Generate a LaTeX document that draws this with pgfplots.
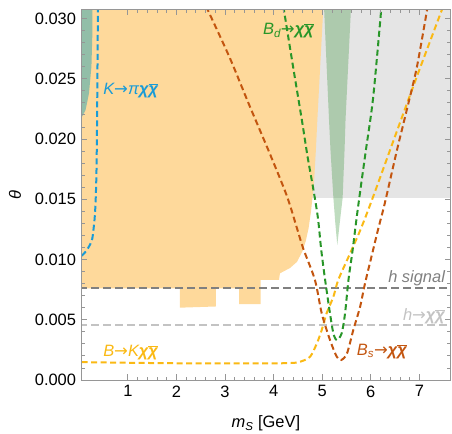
\documentclass[border=0pt]{standalone}
\usepackage{fontspec}
\setmainfont{Liberation Sans}
\newfontfamily\dejavu{DejaVu Sans}
\usepackage{pgfplots}
\pgfplotsset{compat=1.18}
\definecolor{orfill}{RGB}{254,217,155}
\definecolor{grfill}{RGB}{229,229,229}
\definecolor{teal2}{RGB}{146,190,168}
\definecolor{wedge}{RGB}{60,150,60}
\definecolor{Kcol}{RGB}{25,155,215}
\definecolor{Bdcol}{RGB}{40,150,40}
\definecolor{Bscol}{RGB}{195,85,15}
\definecolor{BKcol}{RGB}{250,185,20}
\definecolor{hsig}{RGB}{128,128,128}
\definecolor{hchi}{RGB}{195,195,195}
\definecolor{axisgray}{RGB}{150,150,150}
\newcommand{\arr}{{\dejavu\upshape →}}
\newcommand{\cc}{{\bfseries χ$\overline{\hbox{χ}}$}}
\begin{document}
\fontsize{16.5}{19}\selectfont
\begin{tikzpicture}
\path[use as bounding box] (-81.7bp,-54bp) rectangle (370.3bp,380bp);
\begin{axis}[
  at={(0,0)}, anchor=south west,
  scale only axis, width=368.3bp, height=370bp,
  xmin=0.05, xmax=7.63, ymin=0, ymax=0.0307,
  xtick={1,2,3,4,5,6,7}, minor x tick num=4,
  ytick={0,0.005,0.01,0.015,0.02,0.025,0.03}, minor y tick num=4,
  scaled y ticks=false,
  /pgf/number format/assume math mode=true,
  y tick label style={/pgf/number format/.cd, fixed, fixed zerofill, precision=3, /tikz/.cd},
  tick align=inside,
  major tick length=5.5bp, minor tick length=3bp,
  axis line style={draw=axisgray, line width=1bp},
  tick style={draw=axisgray, line width=0.8bp},
  tick label style={font=\fontsize{16.5}{19}\selectfont, text=black},
  xlabel={\itshape m\textsubscript{S}\upshape\ [GeV]},
  ylabel={\itshape θ},
  xlabel style={at={(axis description cs:0.5,-0.1297)}, anchor=base},
  ylabel style={at={(axis description cs:-0.181,0.5)}, anchor=center},
  label style={font=\fontsize{16.5}{19}\selectfont},
  axis on top,
]
% grey excluded region
\addplot[fill=grfill, draw=none] coordinates {(4.5,0.0151) (7.7,0.0151) (7.7,0.032) (4.5,0.032)} -- cycle;
% orange region
\addplot[fill=orfill, draw=none] coordinates {
(0,0.032) (5.04,0.032) (5.02,0.0307) (4.90,0.0216) (4.87,0.0191) (4.83,0.0163) (4.77,0.0140)
(4.72,0.0126) (4.66,0.0115) (4.59,0.01065) (4.48,0.0098) (4.34,0.0093) (4.13,0.00885)
(4.11,0.0083) (3.73,0.0083) (3.73,0.0063) (3.29,0.0063) (3.29,0.0076) (2.81,0.0076)
(2.81,0.0061) (2.07,0.0060) (2.07,0.0076) (0,0.0076)} -- cycle;
% teal region top left
\addplot[fill=teal2, draw=none] coordinates {
(0,0.032) (0.27,0.032) (0.27,0.0288) (0.25,0.026) (0.20,0.0238) (0.13,0.0224) (0.05,0.0218) (0,0.0218)} -- cycle;
% green wedge
\addplot[fill=wedge, fill opacity=0.33, draw=none] coordinates {
(5.03,0.032) (5.04,0.0307) (5.14,0.0216) (5.17,0.0191) (5.23,0.0151) (5.27,0.0130) (5.31,0.0112)
(5.36,0.0130) (5.42,0.0151) (5.46,0.0191) (5.48,0.0216) (5.59,0.0307) (5.60,0.032)} -- cycle;
% h lines
\addplot[hsig, line width=1.8bp, dash pattern=on 8bp off 4bp] coordinates {(0,0.00761) (7.7,0.00761)};
\addplot[hchi, line width=1.8bp, dash pattern=on 8bp off 4bp] coordinates {(0,0.00458) (7.7,0.00458)};
% K -> pi chi chi
\addplot[Kcol, line width=2bp, dash pattern=on 6bp off 3.5bp, smooth] coordinates {
(0.05,0.0103) (0.12,0.0106) (0.19,0.0110) (0.26,0.0116) (0.29,0.0124) (0.32,0.0136) (0.34,0.0152)
(0.355,0.0175) (0.365,0.021) (0.375,0.026) (0.385,0.031)};
% B -> K chi chi
\addplot[BKcol, line width=2bp, dash pattern=on 6bp off 3.5bp, smooth] coordinates {
(0.05,0.00148) (1,0.00143) (2,0.00139) (3,0.00137) (4,0.00138) (4.4,0.00142) (4.55,0.00152)
(4.75,0.00193) (4.89,0.00304) (4.99,0.00415) (5.09,0.00553) (5.23,0.00691) (5.33,0.0083)
(5.54,0.0102) (5.78,0.0124) (6.02,0.0149) (6.47,0.0199) (6.95,0.0252) (7.49,0.0310)};
% Bd -> chi chi
\addplot[Bdcol, line width=2bp, dash pattern=on 6bp off 3.5bp, smooth] coordinates {
(4.20,0.0310) (4.40,0.0260) (4.58,0.0216) (4.70,0.0185) (4.81,0.0160) (4.91,0.0135) (4.98,0.0108)
(5.06,0.0083) (5.16,0.00553) (5.23,0.00387) (5.30,0.00332) (5.40,0.00387) (5.47,0.00553)
(5.54,0.0083) (5.62,0.0106) (5.71,0.0135) (5.80,0.0162) (5.90,0.0191) (6.05,0.0235) (6.22,0.0310)};
% Bs -> chi chi
\addplot[Bscol, line width=2bp, dash pattern=on 6bp off 3.5bp, smooth] coordinates {
(2.61,0.0310) (3.09,0.0268) (3.50,0.0228) (3.93,0.0187) (4.27,0.0153) (4.48,0.0126) (4.61,0.0109)
(4.85,0.0083) (4.99,0.00553) (5.16,0.00332) (5.30,0.00193) (5.39,0.00166) (5.51,0.00221)
(5.64,0.00415) (5.78,0.00608) (5.88,0.0080) (6.03,0.0105) (6.15,0.0125) (6.29,0.0147)
(6.54,0.0191) (6.74,0.0224) (6.95,0.0260) (7.17,0.0310)};
% labels
\node[anchor=west, inner sep=0pt, text=Kcol] at (axis cs:0.49,0.0240) {\itshape K\arr π\cc};
\node[anchor=west, inner sep=0pt, text=Bdcol] at (axis cs:3.78,0.0290) {\itshape B\textsubscript{d}\arr\cc};
\node[anchor=east, inner sep=0pt, text=hsig] at (axis cs:7.53,0.00846) {\itshape h signal};
\node[anchor=east, inner sep=0pt, text=hchi] at (axis cs:7.53,0.0053) {\itshape h\arr\cc};
\node[anchor=west, inner sep=0pt, text=Bscol] at (axis cs:5.71,0.0024) {\itshape B\textsubscript{s}\arr\cc};
\node[anchor=west, inner sep=0pt, text=BKcol] at (axis cs:0.49,0.0023) {\itshape B\arr K\cc};
\end{axis}
\end{tikzpicture}
\end{document}
